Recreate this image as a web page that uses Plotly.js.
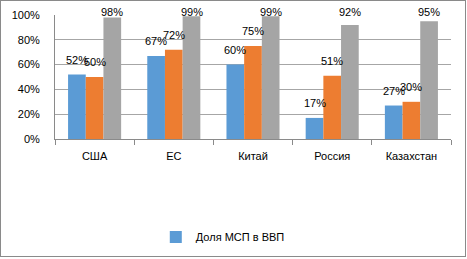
<!DOCTYPE html>
<html>
<head>
<meta charset="utf-8">
<script src="https://cdn.plot.ly/plotly-3.0.1.min.js"></script>
<style>
  html, body { margin: 0; padding: 0; background: #fff; }
  #chart { width: 464px; height: 255px; border: 1px solid #8a8a8a; }
</style>
</head>
<body>
<div id="chart"></div>
<script>
const categories = ["США", "ЕС", "Китай", "Россия", "Казахстан"];
const seriesNames = ["Доля МСП в ВВП", "Доля МСП в занятости", "Доля МСП в числе предприятий"];
const gdpShare = [0.52, 0.67, 0.60, 0.17, 0.27];
const employmentShare = [0.50, 0.72, 0.75, 0.51, 0.30];
const enterpriseShare = [0.98, 0.99, 0.99, 0.92, 0.95];
const yTickVals = [0, 0.2, 0.4, 0.6, 0.8, 1.0];
const yTickText = ["0%", "20%", "40%", "60%", "80%", "100%"];

const series = [gdpShare, employmentShare, enterpriseShare];
const colors = ["#5B9BD5", "#ED7D31", "#A5A5A5"];
const font = { family: "Liberation Sans, Arial, sans-serif", size: 11, color: "#000" };

const traces = series.map((vals, i) => ({
  type: "bar",
  name: seriesNames[i],
  x: categories,
  y: vals,
  marker: { color: colors[i] },
  showlegend: i === 0,
  hoverinfo: "none"
}));

const plotH = 124;
const barPx = 17.7;
const annotations = [];
series.forEach((vals, i) => {
  vals.forEach((v, j) => {
    const room = (1 - v) * plotH + 3;
    annotations.push({
      x: categories[j], y: v, xref: "x", yref: "y",
      text: Math.round(v * 100) + "%",
      showarrow: false,
      xshift: (i - 1) * barPx,
      yshift: Math.min(15, room),
      font: font
    });
  });
});

const layout = {
  width: 464, height: 255,
  margin: { l: 54, r: 14, t: 14, b: 117 },
  paper_bgcolor: "#fff", plot_bgcolor: "#fff",
  font: font,
  barmode: "group",
  bargap: 0.33,
  bargroupgap: 0,
  xaxis: {
    type: "category",
    showline: true, linecolor: "#8a8a8a", linewidth: 1,
    ticks: "outside", tickson: "boundaries", ticklen: 5, tickcolor: "#8a8a8a",
    ticklabelstandoff: 7,
    showgrid: false, zeroline: false,
    tickfont: font, fixedrange: true
  },
  yaxis: {
    range: [0, 1],
    tickvals: yTickVals, ticktext: yTickText,
    showline: true, linecolor: "#8a8a8a", linewidth: 1,
    showgrid: true, gridcolor: "#a6a6a6", gridwidth: 1,
    zeroline: false,
    ticks: "", ticklabelstandoff: 12,
    tickfont: font, fixedrange: true
  },
  legend: {
    orientation: "h",
    xref: "container", yref: "container",
    x: 0.478, xanchor: "center",
    y: 0.075, yanchor: "middle",
    font: font,
    itemwidth: 30
  },
  annotations: annotations
};

Plotly.newPlot("chart", traces, layout, { displayModeBar: false, staticPlot: true });
</script>
</body>
</html>
